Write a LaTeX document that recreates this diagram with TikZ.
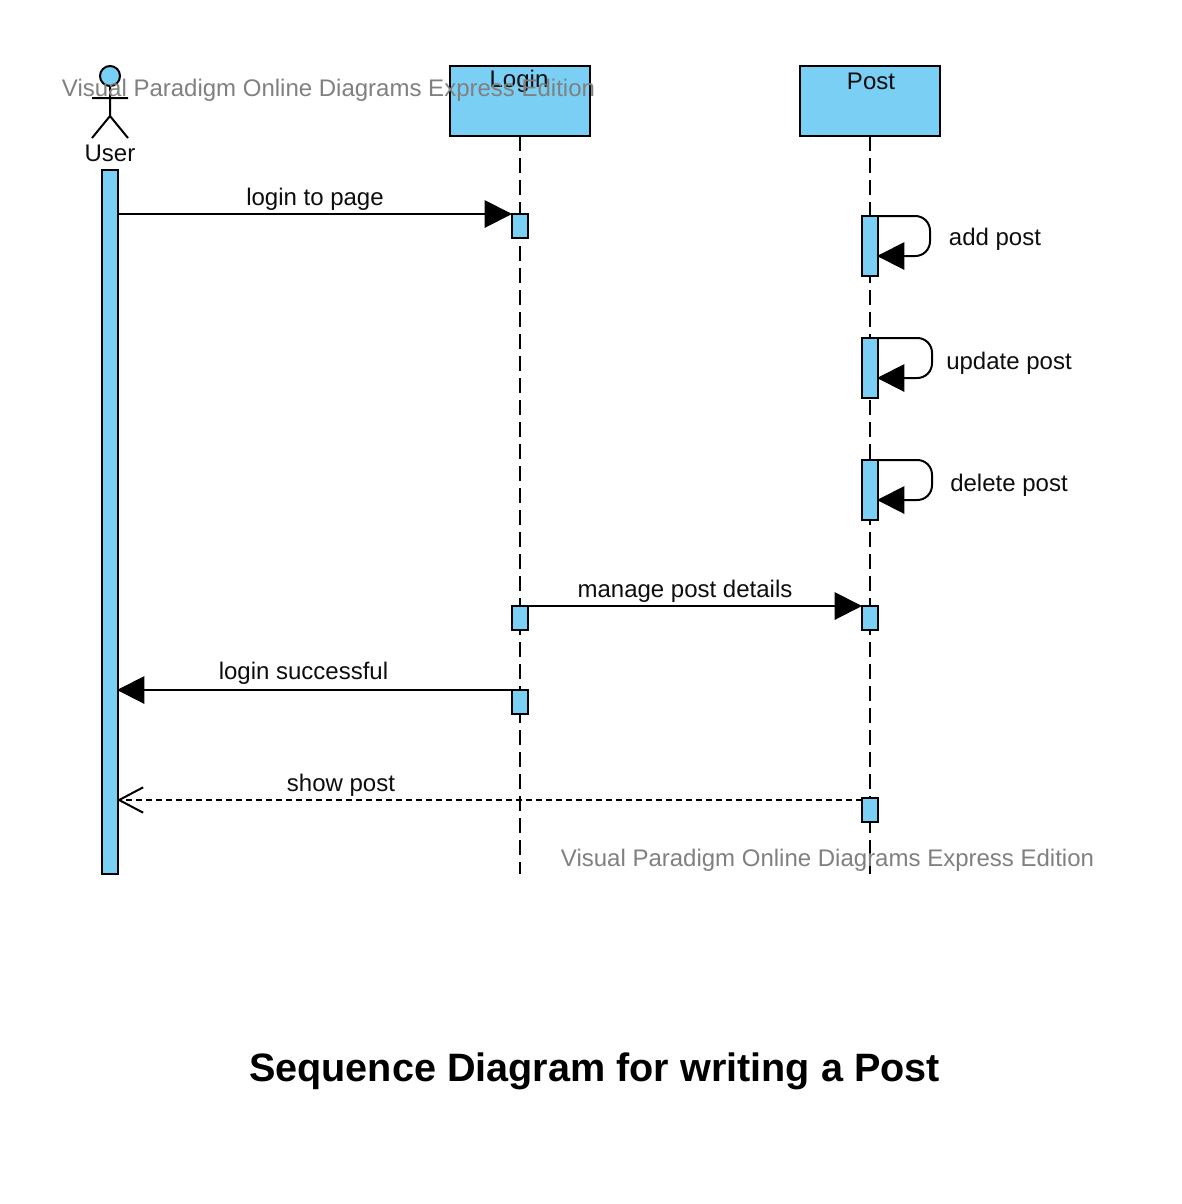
\documentclass[tikz,border=0pt]{standalone}
\usepackage{fontspec}
\setmainfont{Liberation Sans}
\usetikzlibrary{arrows.meta}
\definecolor{barblue}{RGB}{122,207,245}
\definecolor{wmgray}{RGB}{128,128,128}
\tikzset{
    headbox/.style={draw=black, fill=barblue, line width=1.5pt, minimum width=105pt, minimum height=52.5pt, inner sep=0pt, outer sep=0pt},
    actbar/.style={draw=black, fill=barblue, line width=1.5pt, minimum width=12pt, inner sep=0pt, outer sep=0pt},
    lifeline/.style={line width=1.5pt, dash pattern=on 11.5pt off 5pt},
    msgline/.style={line width=1.5pt, -{Triangle[length=20.5pt,width=20.5pt]}},
    backmsg/.style={msgline, shorten >=-0.75pt},
    retline/.style={line width=1.5pt, dash pattern=on 4.5pt off 3pt, shorten >=-0.75pt, -{Straight Barb[length=18pt,width=19pt,line width=1.5pt]}},
    selfline/.style={backmsg, rounded corners=11pt},
    txt/.style={inner sep=0pt, font=\fontsize{18pt}{20pt}\selectfont, text=black!95},
    wmark/.style={inner sep=0pt, font=\fontsize{18pt}{20pt}\selectfont, text=wmgray},
}
\begin{document}
\begin{tikzpicture}[x=0.75pt,y=-0.75pt]
\useasboundingbox (0,0) rectangle (1182,1204);

% heads
\node[headbox] (login) at (520,101) {};
\node[headbox] (post) at (870,101) {};
\coordinate (loginend) at (520,874);
\coordinate (postend) at (870,874);
\draw[lifeline] (login.south) -- (loginend);
\draw[lifeline] (post.south) -- (postend);

% actor
\node[draw=black, fill=barblue, circle, line width=1.5pt, minimum size=15pt, inner sep=0pt, outer sep=0pt] (head) at (110,76) {};
\coordinate (hip) at (110,116);
\coordinate (armL) at (92,98);
\coordinate (armR) at (128,98);
\coordinate (legL) at (92,138);
\coordinate (legR) at (128,138);
\draw[line width=1.5pt] (head.south) -- (hip) (armL) -- (armR) (legL) -- (hip) -- (legR);

% bars
\node[actbar, minimum height=528pt] (userbar) at (110,522) {};
\node[actbar, minimum height=18pt] (loginA) at (520,226) {};
\node[actbar, minimum height=18pt] (loginB) at (520,618) {};
\node[actbar, minimum height=18pt] (loginC) at (520,702) {};
\node[actbar, minimum height=45pt] (addbar) at (870,246) {};
\node[actbar, minimum height=45pt] (updatebar) at (870,368) {};
\node[actbar, minimum height=45pt] (deletebar) at (870,490) {};
\node[actbar, minimum height=18pt] (postA) at (870,618) {};
\node[actbar, minimum height=18pt] (postB) at (870,810) {};

% messages
\draw[msgline] (userbar.east |- loginA.north) -- (loginA.north west);
\draw[msgline] (loginB.north east) -- (postA.north west);
\draw[backmsg] (loginC.north west) -- (userbar.east |- loginC.north);
\coordinate (showstart) at (862,800);
\draw[retline] (showstart) -- (userbar.east |- showstart);

\coordinate (addin) at (878,256);
\coordinate (updatein) at (878,378);
\coordinate (deletein) at (878,500);
\draw[selfline] (addbar.north east) -- ++(52,0) -- ++(0,40) -- (addin);
\draw[selfline] (updatebar.north east) -- ++(54,0) -- ++(0,40) -- (updatein);
\draw[selfline] (deletebar.north east) -- ++(54,0) -- ++(0,40) -- (deletein);

% texts
\node[txt] (logintxt) at (519,81) {Login};
\node[txt] (posttxt) at (871,81) {Post};
\node[txt] (usertxt) at (110,153) {User};
\node[txt] (msgA) at (315,199) {login to page};
\node[txt] (msgB) at (995,239) {add post};
\node[txt] (msgC) at (1009,363) {update post};
\node[txt] (msgD) at (1009,485) {delete post};
\node[txt] (msgE) at (685,591) {manage post details};
\node[txt] (msgF) at (303.5,673) {login successful};
\node[txt] (msgG) at (341,785) {show post};
\node[wmark] (wmA) at (328.5,90) {Visual Paradigm Online Diagrams Express Edition};
\node[wmark] (wmB) at (827.5,860) {Visual Paradigm Online Diagrams Express Edition};
\node[inner sep=0pt, font=\bfseries\fontsize{29.7pt}{32pt}\selectfont] (title) at (594.5,1071) {Sequence Diagram for writing a Post};
\end{tikzpicture}
\end{document}
